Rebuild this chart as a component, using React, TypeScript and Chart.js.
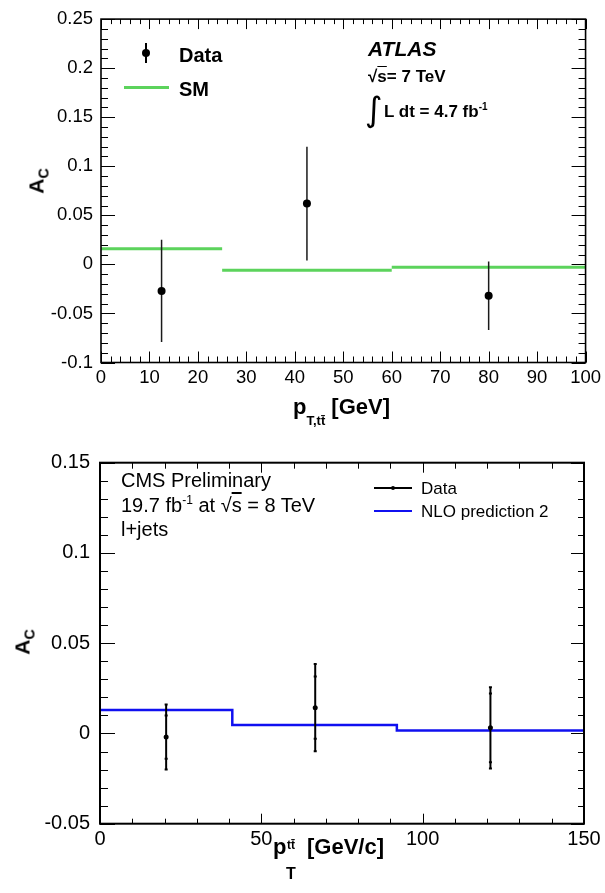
import React, { useEffect, useRef } from 'react';
import { Chart, registerables } from 'chart.js';
Chart.register(...registerables);

const FONT = "'Liberation Sans', Arial, Helvetica, sans-serif";

// ---------- ATLAS panel (top) ----------
const atlasBinCenters = [12.5, 42.5, 80];
const atlasAc = [-0.027, 0.062, -0.032];
const atlasErr = [0.052, 0.058, 0.035];
const smEdges = [0, 25, 60, 100];
const smAc = [0.016, -0.006, -0.003];
const atlasYTicks = [-0.1, -0.05, 0, 0.05, 0.1, 0.15, 0.2, 0.25];
const atlasYLabels = ['-0.1', '-0.05', '0', '0.05', '0.1', '0.15', '0.2', '0.25'];
const atlasXTicks = [0, 10, 20, 30, 40, 50, 60, 70, 80, 90, 100];
const atlasXLabels = ['0', '10', '20', '30', '40', '50', '60', '70', '80', '90', '100'];

// ---------- CMS panel (bottom) ----------
const cmsBinCenters = [20.5, 66.7, 121];
const cmsAc = [-0.002, 0.0143, 0.0031];
const cmsStat = [0.012, 0.0172, 0.019];
const cmsTotal = [0.018, 0.0242, 0.0225];
const nloEdges = [0, 41, 92, 150];
const nloAc = [0.013, 0.0047, 0.0017];
const cmsYTicks = [-0.05, 0, 0.05, 0.1, 0.15];
const cmsYLabels = ['-0.05', '0', '0.05', '0.1', '0.15'];
const cmsXTicks = [0, 50, 100, 150];
const cmsXLabels = ['0', '50', '100', '150'];

const framePlugin = {
  id: 'rootFrame',
  afterDatasetsDraw(chart: any, _args: any, o: any) {
    const { ctx, chartArea: a, scales } = chart;
    const xs = scales.x;
    const ys = scales.y;
    ctx.save();
    ctx.strokeStyle = '#000';
    ctx.lineWidth = o.tickWidth;
    ctx.beginPath();
    const nx = Math.round((xs.max - xs.min) / o.xMinor);
    for (let i = 0; i <= nx; i++) {
      const v = xs.min + i * o.xMinor;
      const major = Math.abs(v / o.xMajor - Math.round(v / o.xMajor)) < 1e-6;
      const px = Math.round(xs.getPixelForValue(v)) + 0.5;
      ctx.moveTo(px, a.bottom);
      ctx.lineTo(px, a.bottom - (major ? o.xMaj : o.xMin));
      ctx.moveTo(px, a.top);
      ctx.lineTo(px, a.top + (major ? o.xTopMaj : o.xTopMin));
    }
    const ny = Math.round((ys.max - ys.min) / o.yMinor);
    for (let i = 0; i <= ny; i++) {
      const v = ys.min + i * o.yMinor;
      const major = Math.abs(v / o.yMajor - Math.round(v / o.yMajor)) < 1e-6;
      const py = Math.round(ys.getPixelForValue(v)) + 0.5;
      ctx.moveTo(a.left, py);
      ctx.lineTo(a.left + (major ? o.yMaj : o.yMin), py);
      ctx.moveTo(a.right, py);
      ctx.lineTo(a.right - (major ? o.yRightMaj : o.yRightMin), py);
    }
    ctx.stroke();
    ctx.lineWidth = o.frameWidth;
    ctx.strokeRect(a.left, a.top, a.right - a.left, a.bottom - a.top);
    ctx.restore();
  },
};

function errorBarData(xs: number[], ys: number[], lo: number[], hi: number[]) {
  const out: any[] = [];
  xs.forEach((x, i) => {
    out.push({ x, y: ys[i] - lo[i] });
    out.push({ x, y: ys[i] + hi[i] });
    out.push({ x, y: null });
  });
  return out;
}

function segmentData(edges: number[], vals: number[], connect: boolean) {
  const out: any[] = [];
  vals.forEach((v, i) => {
    out.push({ x: edges[i], y: v });
    out.push({ x: edges[i + 1], y: v });
    if (!connect) out.push({ x: edges[i + 1], y: null });
  });
  return out;
}

function makeScales(p: any) {
  return {
    x: {
      type: 'linear',
      min: p.xMin,
      max: p.xMax,
      grid: { display: false, drawTicks: false, tickLength: 0 },
      border: { display: false },
      afterBuildTicks: (s: any) => {
        s.ticks = p.xTicks.map((v: number) => ({ value: v }));
      },
      afterFit: (s: any) => {
        s.height = p.xHeight;
      },
      ticks: {
        autoSkip: false,
        maxRotation: 0,
        padding: p.xPad,
        color: '#000',
        font: { family: FONT, size: p.tickFont },
        callback: (_v: any, i: number) => p.xLabels[i],
      },
    },
    y: {
      type: 'linear',
      min: p.yMin,
      max: p.yMax,
      grid: { display: false, drawTicks: false, tickLength: 0 },
      border: { display: false },
      afterBuildTicks: (s: any) => {
        s.ticks = p.yTicks.map((v: number) => ({ value: v }));
      },
      afterFit: (s: any) => {
        s.width = p.yWidth;
      },
      ticks: {
        autoSkip: false,
        padding: p.yPad,
        color: '#000',
        font: { family: FONT, size: p.tickFont },
        callback: (_v: any, i: number) => p.yLabels[i],
      },
    },
  };
}

function ChartCanvas({ config, width, height }: any) {
  const ref = useRef<HTMLCanvasElement>(null);
  useEffect(() => {
    const chart = new Chart(ref.current as HTMLCanvasElement, config);
    return () => chart.destroy();
  }, []);
  return <canvas ref={ref} width={width} height={height} style={{ display: 'block', width, height }} />;
}

const atlasConfig: any = {
  type: 'scatter',
  plugins: [framePlugin],
  data: {
    datasets: [
      {
        label: 'Data',
        data: atlasBinCenters.map((x, i) => ({ x, y: atlasAc[i] })),
        pointRadius: 4,
        pointBackgroundColor: '#000',
        pointBorderColor: '#000',
        pointBorderWidth: 0,
        showLine: false,
      },
      {
        label: 'Data errors',
        data: errorBarData(atlasBinCenters, atlasAc, atlasErr, atlasErr),
        showLine: true,
        spanGaps: false,
        borderColor: '#1a1a1a',
        borderWidth: 1.5,
        pointRadius: 0,
      },
      {
        label: 'SM',
        data: segmentData(smEdges, smAc, false),
        showLine: true,
        spanGaps: false,
        borderColor: '#5cd35c',
        borderWidth: 3,
        pointRadius: 0,
      },
    ],
  },
  options: {
    responsive: false,
    animation: false,
    layout: { padding: { top: 12.7, right: 17, left: 0, bottom: 0 } },
    plugins: {
      legend: { display: false },
      tooltip: { enabled: false },
      rootFrame: {
        xMinor: 2, xMajor: 10, yMinor: 0.01, yMajor: 0.05,
        xMaj: 11, xMin: 6, xTopMaj: 10, xTopMin: 5,
        yMaj: 14, yMin: 7, yRightMaj: 14, yRightMin: 7,
        tickWidth: 1, frameWidth: 1.6,
      },
    },
    scales: makeScales({
      xMin: 0, xMax: 100, yMin: -0.1, yMax: 0.25,
      xTicks: atlasXTicks, xLabels: atlasXLabels,
      yTicks: atlasYTicks, yLabels: atlasYLabels,
      xHeight: 77.5, yWidth: 101, xPad: 4, yPad: 8, tickFont: 18.5,
    }),
  },
};

const cmsConfig: any = {
  type: 'scatter',
  plugins: [framePlugin],
  data: {
    datasets: [
      {
        label: 'Data',
        data: cmsBinCenters.map((x, i) => ({ x, y: cmsAc[i] })),
        pointRadius: 2.5,
        pointBackgroundColor: '#000',
        pointBorderColor: '#000',
        pointBorderWidth: 0,
        showLine: false,
      },
      {
        label: 'stat ends',
        data: cmsBinCenters.flatMap((x, i) => [
          { x, y: cmsAc[i] - cmsStat[i] },
          { x, y: cmsAc[i] + cmsStat[i] },
        ]),
        showLine: false,
        pointStyle: 'line',
        pointRadius: 1.5,
        pointBorderColor: '#000',
        pointBorderWidth: 2,
      },
      {
        label: 'total errors',
        data: errorBarData(cmsBinCenters, cmsAc, cmsTotal, cmsTotal),
        showLine: true,
        spanGaps: false,
        borderColor: '#000',
        borderWidth: 2,
        pointStyle: 'line',
        pointRadius: 1.5,
        pointBorderColor: '#000',
        pointBorderWidth: 2,
      },
      {
        label: 'NLO prediction 2',
        data: segmentData(nloEdges, nloAc, true),
        showLine: true,
        borderColor: '#1010f0',
        borderWidth: 2.5,
        pointRadius: 0,
      },
    ],
  },
  options: {
    responsive: false,
    animation: false,
    layout: { padding: { top: 22.7, right: 21, left: 0, bottom: 0 } },
    plugins: {
      legend: { display: false },
      tooltip: { enabled: false },
      rootFrame: {
        xMinor: 10, xMajor: 50, yMinor: 0.01, yMajor: 0.05,
        xMaj: 10, xMin: 5, xTopMaj: 10, xTopMin: 6,
        yMaj: 15, yMin: 8, yRightMaj: 13, yRightMin: 6,
        tickWidth: 1, frameWidth: 2,
      },
    },
    scales: makeScales({
      xMin: 0, xMax: 150, yMin: -0.05, yMax: 0.15,
      xTicks: cmsXTicks, xLabels: cmsXLabels,
      yTicks: cmsYTicks, yLabels: cmsYLabels,
      xHeight: 69.3, yWidth: 100, xPad: 4, yPad: 10, tickFont: 20,
    }),
  },
};

function T({ x, y, size, bold, italic, children, family }: any) {
  return (
    <span
      style={{
        position: 'absolute',
        left: x,
        top: y - 0.85 * size,
        fontSize: size,
        lineHeight: 1,
        fontFamily: family || FONT,
        fontWeight: bold ? 'bold' : 'normal',
        fontStyle: italic ? 'italic' : 'normal',
        whiteSpace: 'nowrap',
        color: '#000',
      }}
    >
      {children}
    </span>
  );
}

function Shift({ dy, size, children }: any) {
  return (
    <span style={{ position: 'relative', top: dy, fontSize: size, lineHeight: 0 }}>{children}</span>
  );
}

function Box({ x, y, w, h, bg, r }: any) {
  return (
    <div style={{ position: 'absolute', left: x, top: y, width: w, height: h, background: bg, borderRadius: r || 0 }} />
  );
}

function YTitle({ cx, cy, size }: any) {
  return (
    <div
      style={{
        position: 'absolute',
        left: cx,
        top: cy,
        transform: 'translate(-50%, -50%) rotate(-90deg)',
        fontFamily: FONT,
        fontWeight: 'bold',
        fontSize: size,
        lineHeight: 1,
        whiteSpace: 'nowrap',
      }}
    >
      A<Shift dy={5} size={size * 0.68}>C</Shift>
    </div>
  );
}

export default function App() {
  return (
    <div style={{ position: 'absolute', left: 0, top: 0, width: 605, height: 893, background: '#fff', overflow: 'hidden' }}>
      <div style={{ position: 'absolute', left: 0, top: 0 }}>
        <ChartCanvas config={atlasConfig} width={605} height={440} />
      </div>
      <div style={{ position: 'absolute', left: 0, top: 440 }}>
        <ChartCanvas config={cmsConfig} width={605} height={453} />
      </div>

      {/* ATLAS legend */}
      <Box x={145.2} y={42.7} w={1.6} h={20.6} bg="#000" />
      <Box x={142} y={48.7} w={8} h={8} bg="#000" r={4} />
      <T x={179} y={62} size={20} bold>Data</T>
      <Box x={124} y={86.2} w={45} h={3} bg="#5cd35c" />
      <T x={179} y={96} size={20} bold>SM</T>

      {/* ATLAS label */}
      <T x={368} y={56} size={21} bold italic>ATLAS</T>
      <T x={368} y={82.7} size={17} bold>
        √<span style={{ textDecoration: 'overline' }}>s</span>= 7 TeV
      </T>
      <T x={365} y={121} size={34} family="'DejaVu Sans', sans-serif">∫</T>
      <T x={384} y={117} size={17} bold>
        L dt = 4.7 fb<Shift dy={-7} size={10}>-1</Shift>
      </T>

      {/* ATLAS axis titles */}
      <YTitle cx={36} cy={181} size={21} />
      <T x={293} y={415} size={22} bold>
        p<Shift dy={11} size={13}>T,tt̄</Shift> [GeV]
      </T>

      {/* CMS labels */}
      <T x={121} y={487.3} size={20}>CMS Preliminary</T>
      <T x={121} y={512} size={20}>
        19.7 fb<Shift dy={-8} size={12}>-1</Shift> at  √<span style={{ textDecoration: 'overline' }}>s</span> = 8 TeV
      </T>
      <T x={121} y={536} size={20}>l+jets</T>

      {/* CMS legend */}
      <Box x={374} y={486.7} w={38} h={2} bg="#000" />
      <Box x={391} y={485.7} w={4} h={4} bg="#000" r={2} />
      <T x={421} y={494} size={17}>Data</T>
      <Box x={374} y={510} w={38} h={2} bg="#1010f0" />
      <T x={421} y={517.3} size={17}>NLO prediction 2</T>

      {/* CMS axis titles */}
      <YTitle cx={22} cy={642} size={21} />
      <T x={273} y={855} size={22} bold>p</T>
      <T x={287} y={849} size={12} bold>tt̄</T>
      <T x={286} y={880} size={16} bold>T</T>
      <T x={307} y={855} size={22} bold>[GeV/c]</T>
    </div>
  );
}
